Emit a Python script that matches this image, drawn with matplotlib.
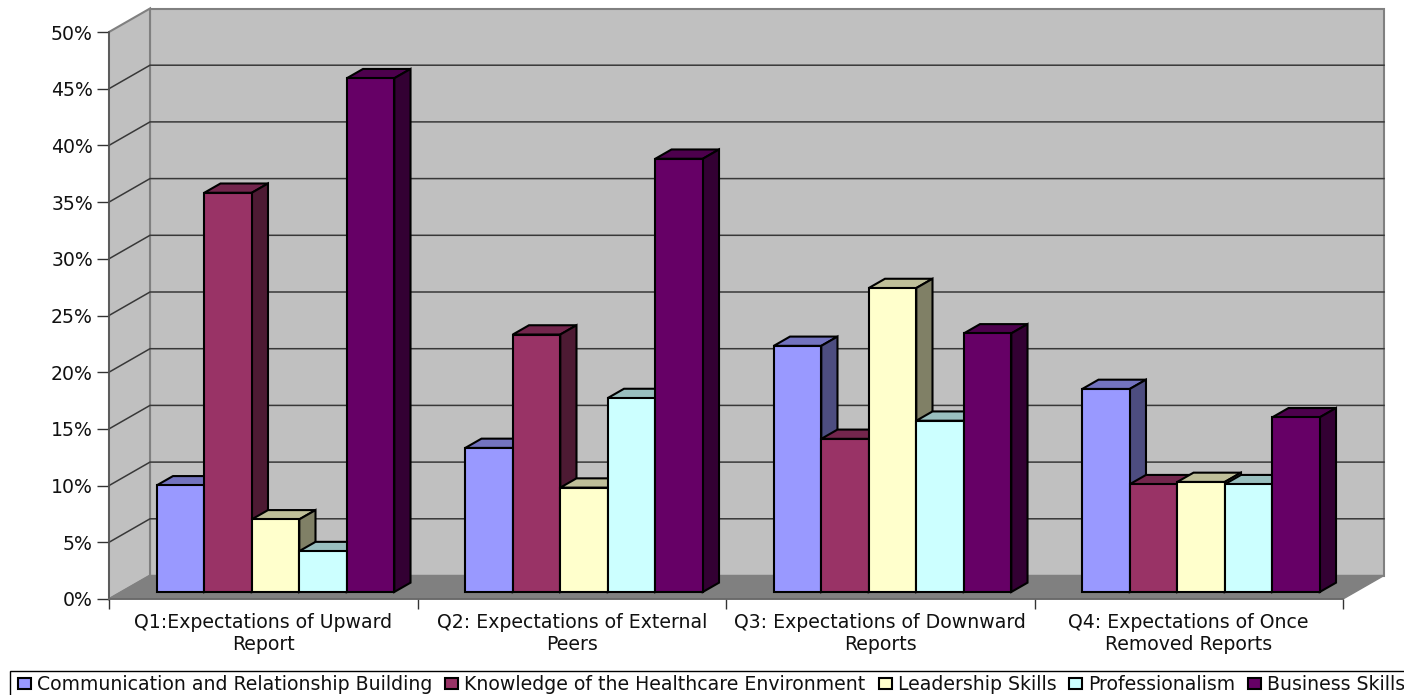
import matplotlib
matplotlib.use("Agg")
import matplotlib.pyplot as plt
import numpy as np
from matplotlib.patches import Patch, Polygon, Rectangle
from matplotlib.transforms import Affine2D, IdentityTransform

plt.rcParams['font.family'] = ['DejaVu Sans']

categories = ["Q1:Expectations of Upward\nReport",
              "Q2: Expectations of External\nPeers",
              "Q3: Expectations of Downward\nReports",
              "Q4: Expectations of Once\nRemoved Reports"]
series_names = ["Communication and Relationship Building",
                "Knowledge of the Healthcare Environment",
                "Leadership Skills", "Professionalism", "Business Skills"]
communication = [9.4, 12.7, 21.7, 17.9]
knowledge = [35.2, 22.7, 13.5, 9.5]
leadership = [6.4, 9.2, 26.8, 9.7]
professionalism = [3.6, 17.1, 15.1, 9.5]
business = [45.3, 38.2, 22.8, 15.4]
series_values = [communication, knowledge, leadership, professionalism, business]

front_colors = ["#9999FF", "#993366", "#FFFFCC", "#CCFFFF", "#660066"]
top_colors = ["#7373BF", "#73264D", "#BFBF99", "#99BFBF", "#4D004D"]
side_colors = ["#4D4D80", "#4D1A33", "#808066", "#668080", "#330033"]
y_ticks = np.arange(0, 51, 5)

W, H = 1404, 695
fig = plt.figure(figsize=(W / 100, H / 100), dpi=100)
ax = fig.add_axes([109 / W, 1 - 599 / H, 1234 / W, 567 / H])
ax.set_xlim(0, 4)
ax.set_ylim(0, 50)
ax.patch.set_visible(False)

# depth of the 3D box in pixels, bars sit 30% in and take 39.5% of it
DEPTH = np.array([41, 23.5])
BAR_FRONT = 0.30
BAR_BACK = 0.695
FONT = 13.55


def pt(x, v, d=0.0):
    return ax.transData.transform((x, v)) + d * DEPTH


def face(points, color, edge, lw, z):
    ax.add_patch(Polygon(points, closed=True, facecolor=color, edgecolor=edge, linewidth=lw,
                         transform=IdentityTransform(), clip_on=False, zorder=z, joinstyle='miter'))


# walls and floor
face([pt(0, 0, 1), pt(4, 0, 1), pt(4, 50, 1), pt(0, 50, 1)], "#C0C0C0", "#808080", 1.5, 1)
face([pt(0, 0), pt(0, 0, 1), pt(0, 50, 1), pt(0, 50)], "#C0C0C0", "#808080", 1.5, 1)
face([pt(0, 0), pt(4, 0), pt(4, 0, 1), pt(0, 0, 1)], "#808080", "#808080", 1.0, 1.5)

# gridlines run along the side wall and then across the back
for v in y_ticks[1:-1]:
    a, b, c = pt(0, v), pt(0, v, 1), pt(4, v, 1)
    ax.plot([a[0], b[0], c[0]], [a[1], b[1], c[1]], color="#383838", lw=1.1,
            transform=IdentityTransform(), clip_on=False, zorder=2)

front_shift = ax.transData + Affine2D().translate(*(BAR_FRONT * DEPTH))
n = len(series_values)
bar_w = 0.154
for c in range(len(categories)):
    start = c + 0.5 - n * bar_w / 2
    for s, values in enumerate(series_values):
        x0, x1, v = start + s * bar_w, start + (s + 1) * bar_w, values[c]
        z = 3 + c * n + s
        face([pt(x0, v, BAR_FRONT), pt(x1, v, BAR_FRONT), pt(x1, v, BAR_BACK), pt(x0, v, BAR_BACK)],
             top_colors[s], "black", 1.5, z)
        face([pt(x1, 0, BAR_FRONT), pt(x1, 0, BAR_BACK), pt(x1, v, BAR_BACK), pt(x1, v, BAR_FRONT)],
             side_colors[s], "black", 1.5, z)
        ax.bar(x0, v, bar_w, align='edge', color=front_colors[s], edgecolor="black", linewidth=1.5,
               transform=front_shift, clip_on=False, zorder=z + 0.5)

# axes
for side in ['top', 'right']:
    ax.spines[side].set_visible(False)
ax.spines['left'].set_color("#555555")
ax.spines['bottom'].set_color("#666666")
ax.spines['left'].set_linewidth(1.2)
ax.spines['bottom'].set_linewidth(1.2)
ax.set_xlim(0, 4)
ax.set_ylim(0, 50)
ax.set_yticks(y_ticks)
ax.set_yticklabels([f"{v}%" for v in y_ticks], fontsize=FONT, color="#111111")
ax.tick_params(axis='y', length=8.6, width=1, color="#333333", pad=3)
ax.set_xticks(range(5))
ax.set_xticklabels([])
ax.tick_params(axis='x', which='major', length=7.2, width=1, color="#333333")
ax.set_xticks(np.arange(4) + 0.5, minor=True)
ax.set_xticklabels(categories, minor=True, fontsize=FONT, color="#111111", linespacing=1.2)
ax.tick_params(axis='x', which='minor', length=0, pad=10)

# legend box runs off the right and bottom edges of the figure
fig.add_artist(Rectangle((10 / W, 1 - 702 / H), 1.0, 31 / H, transform=fig.transFigure,
                         fill=False, edgecolor="black", linewidth=1.0))
handles = [Patch(facecolor=col, edgecolor="black", linewidth=1.5) for col in front_colors]
fig.legend(handles, series_names, ncol=5, loc='upper left',
           bbox_to_anchor=(18 / W, 1 - 675 / H), borderaxespad=0, fontsize=FONT,
           frameon=False, handlelength=0.69, handleheight=0.53, handletextpad=0.32,
           columnspacing=0.69, borderpad=0, labelcolor="#111111")

fig.savefig("out.png", dpi=100)
